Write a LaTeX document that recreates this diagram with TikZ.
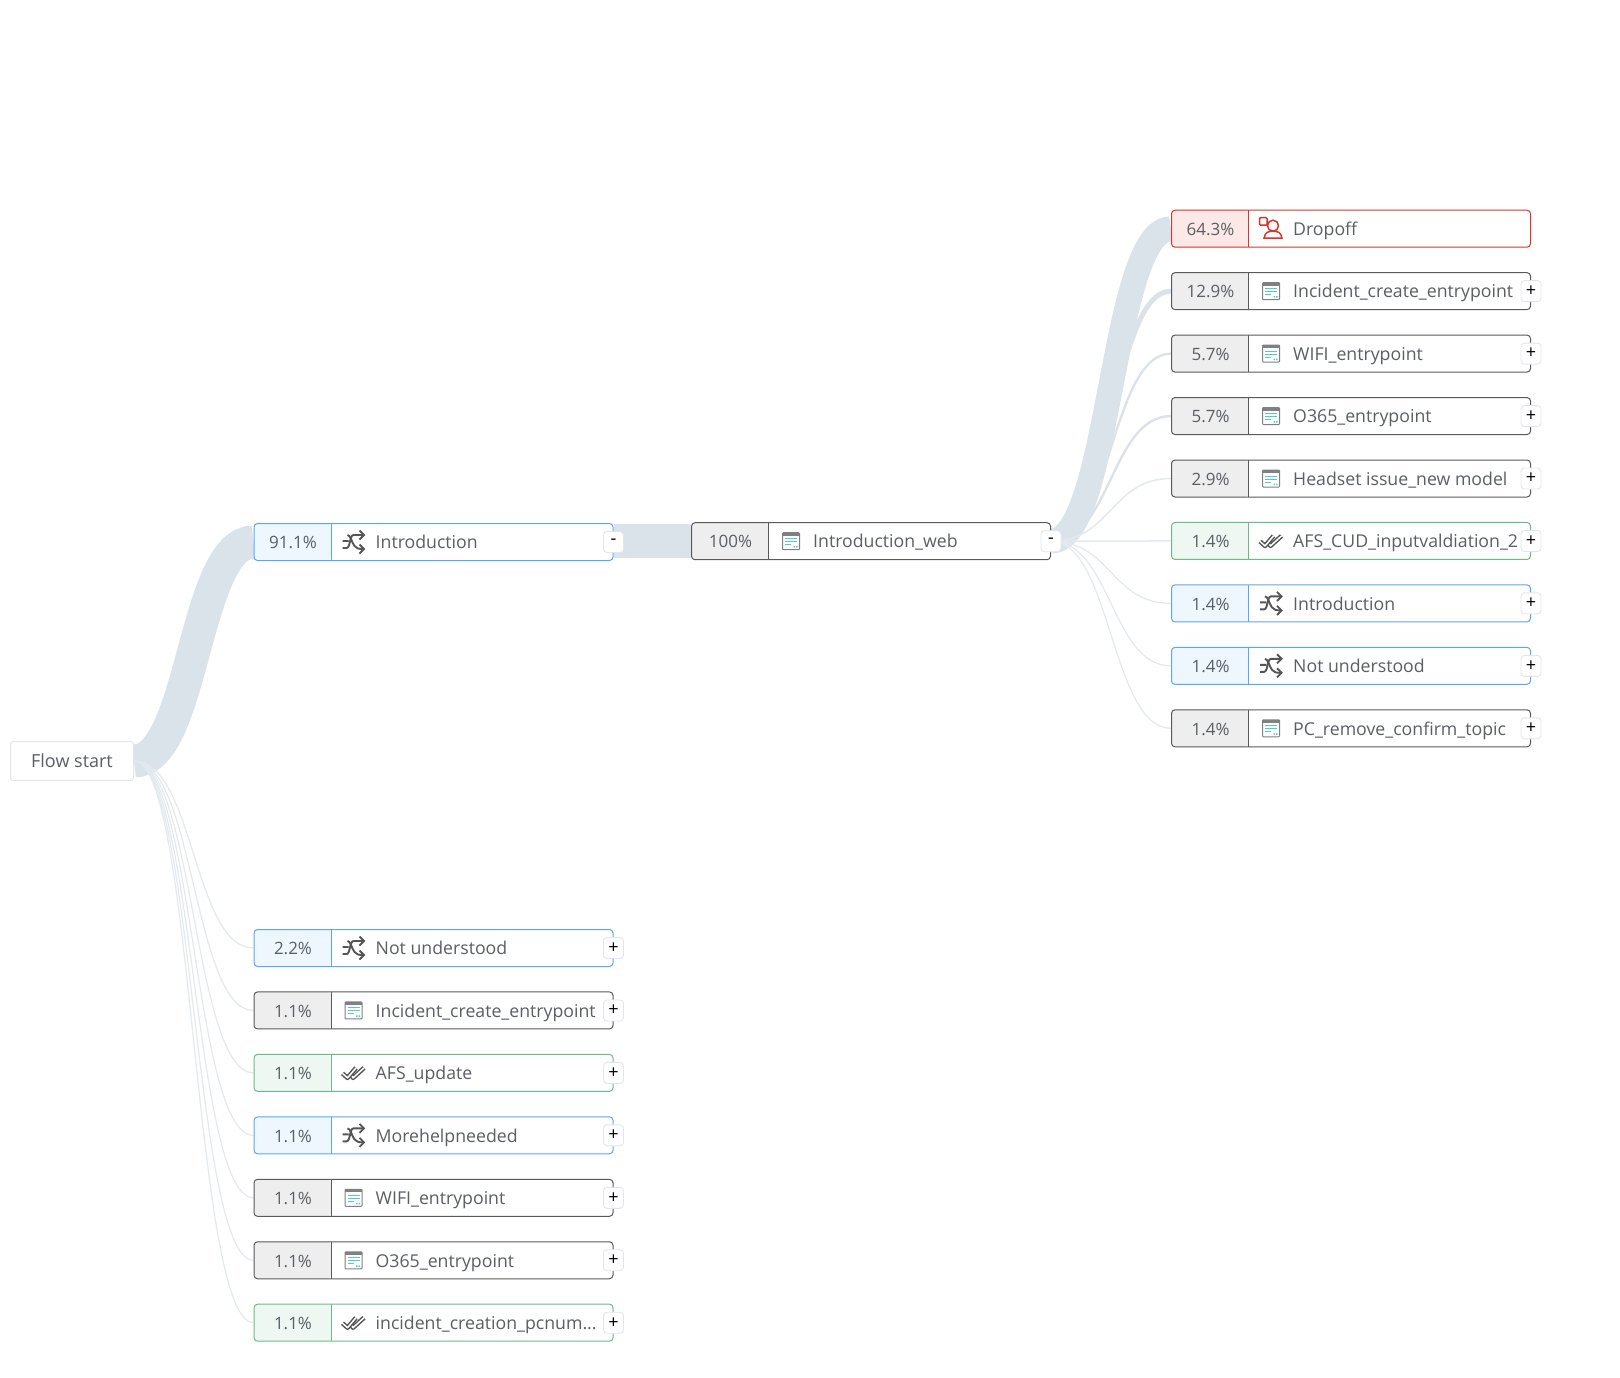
\documentclass[tikz,border=0pt]{standalone}
\usepackage{fontspec}
\setmainfont{Open Sans}
\usetikzlibrary{positioning, arrows, backgrounds}

\definecolor{routeline}{HTML}{5FA5F5}
\definecolor{routefill}{HTML}{EEF6FE}
\definecolor{formline}{HTML}{5A5A5A}
\definecolor{formfill}{HTML}{EEEEEE}
\definecolor{doneline}{HTML}{6DB98D}
\definecolor{donefill}{HTML}{EEF7F1}
\definecolor{dropline}{HTML}{D9352A}
\definecolor{dropfill}{HTML}{FCE9E7}
\definecolor{ribbongrey}{HTML}{DBE3EA}
\definecolor{thingrey}{HTML}{E3E9EF}
\definecolor{btnline}{HTML}{E2E6EC}
\definecolor{textgrey}{HTML}{5A5F66}
\definecolor{icongrey}{HTML}{555555}
\definecolor{formteal}{HTML}{4FCFCB}

\tikzstyle{rowbox} = [rectangle, rounded corners=3.5pt, minimum width=359pt, minimum height=37pt, inner sep=0pt, fill=white, line width=1pt]
\tikzstyle{pctlabel} = [inner sep=0pt, text height=12.5pt, text depth=0pt, text=textgrey, font=\fontsize{17}{20}\selectfont]
\tikzstyle{namelabel} = [inner sep=0pt, anchor=west, text height=12.5pt, text depth=0pt, text=textgrey, font=\fontsize{17.7}{20}\selectfont]
\tikzstyle{btn} = [rectangle, rounded corners=3.5pt, minimum width=20pt, minimum height=21pt, inner sep=0pt, draw=btnline, fill=white, line width=0.9pt, font=\fontsize{18}{18}\selectfont]
\tikzstyle{startbox} = [rectangle, rounded corners=3pt, minimum width=123pt, minimum height=39pt, inner sep=0pt, draw=btnline, fill=white, line width=1pt, text=textgrey, font=\fontsize{18}{20}\selectfont]
\tikzstyle{ribbon} = [draw=ribbongrey, to path={.. controls +(60pt,0pt) and +(-60pt,0pt) .. (\tikztotarget)}]
\tikzstyle{thinribbon} = [ribbon, draw=thingrey, line width=1.2pt]

% icons
\tikzset{
  routeicon/.pic={
    \draw [icongrey, line width=1.9pt] (-11,1) -- (-5,1) (-11,-6) -- (-7,-6) .. controls (-3,-6) and (-4,7) .. (0,7) -- (10,7);
    \draw [icongrey, line width=1.9pt] (-6,7) .. controls (-3,7) and (-2,0) .. (1,-4) .. controls (3,-6.5) and (5,-7) .. (10,-7);
    \draw [icongrey, line width=1.9pt] (6,11.5) -- (10.5,7) -- (6,2.5) (6,-2.5) -- (10.5,-7) -- (6,-11.5);
  },
  formicon/.pic={
    \draw [draw=gray, fill=white, rounded corners=0.8pt, line width=1pt] (-8.5,-8.5) rectangle (8.5,8.5);
    \fill [gray] (-8.5,8.5) rectangle (8.5,5.5);
    \draw [formteal, line width=1pt] (-6,2.5) -- (6,2.5) (-6,-0.5) -- (6,-0.5) (-6,-3.5) -- (0,-3.5);
    \fill [formteal] (2.5,-6.5) rectangle (4,-5) (5,-6.5) rectangle (6.5,-5);
  },
  doneicon/.pic={
    \draw [icongrey, line width=1.5pt, double=white, double distance=1.5pt, line join=round] (-3,-1) -- (-0.5,-5) -- (10.5,5);
    \draw [icongrey, line width=1.5pt, double=white, double distance=1.5pt, line join=round] (-11,-0.5) -- (-6,-5) -- (2.5,5);
  },
  dropicon/.pic={
    \draw [dropline, line width=1.5pt, rounded corners=1pt] (-11.5,3.5) rectangle (-4,11);
    \draw [dropline, line width=1.5pt] (2,3) circle (5.5);
    \draw [dropline, line width=1.5pt] (-7,-9.5) .. controls (-6,-3) and (-2,-2.5) .. (2,-2.5) .. controls (6,-2.5) and (10,-3) .. (11,-9.5) -- cycle;
  }
}

% name, line colour, placement, percent, icon, text
\newcommand{\flowrow}[6]{
  \node (#1) [rowbox, draw=#2line, #3, path picture={
    \fill [#2fill] (path picture bounding box.south west) rectangle ++(77pt,37pt);
    \draw [#2line, line width=1pt] ([xshift=77pt]path picture bounding box.south west) -- ++(0pt,37pt);}] {};
  \node (#1pct) [pctlabel] at ([xshift=39.5pt,yshift=-0.5pt]#1.west) {#4};
  \pic at ([xshift=100pt]#1.west) {#5icon};
  \node (#1name) [namelabel] at ([xshift=122pt,yshift=-0.5pt]#1.west) {#6};
}

\begin{document}
\begin{tikzpicture}[x=1pt, y=1pt, node distance=62.45pt]
\useasboundingbox (0,0) rectangle (1620,-1378);

%% NODES

\node (start) [startbox] at (72,-761) {Flow start};

\flowrow{intro}{route}{at={(433.5,-542)}}{91.1\%}{route}{Introduction}
\flowrow{web}{form}{at={(871,-541.2)}}{100\%}{form}{Introduction\_web}

\flowrow{dropoff}{drop}{at={(1351,-228.7)}}{64.3\%}{drop}{Dropoff}
\flowrow{rincident}{form}{below of=dropoff}{12.9\%}{form}{Incident\_create\_entrypoint}
\flowrow{rwifi}{form}{below of=rincident}{5.7\%}{form}{WIFI\_entrypoint}
\flowrow{roffice}{form}{below of=rwifi}{5.7\%}{form}{O365\_entrypoint}
\flowrow{rheadset}{form}{below of=roffice}{2.9\%}{form}{Headset issue\_new model}
\flowrow{rafs}{done}{below of=rheadset}{1.4\%}{done}{AFS\_CUD\_inputvaldiation\_2}
\flowrow{rintro}{route}{below of=rafs}{1.4\%}{route}{Introduction}
\flowrow{rnot}{route}{below of=rintro}{1.4\%}{route}{Not understood}
\flowrow{rpc}{form}{below of=rnot}{1.4\%}{form}{PC\_remove\_confirm\_topic}

\flowrow{lnot}{route}{at={(433.5,-948)}}{2.2\%}{route}{Not understood}
\flowrow{lincident}{form}{below of=lnot}{1.1\%}{form}{Incident\_create\_entrypoint}
\flowrow{lafs}{done}{below of=lincident}{1.1\%}{done}{AFS\_update}
\flowrow{lmore}{route}{below of=lafs}{1.1\%}{route}{Morehelpneeded}
\flowrow{lwifi}{form}{below of=lmore}{1.1\%}{form}{WIFI\_entrypoint}
\flowrow{loffice}{form}{below of=lwifi}{1.1\%}{form}{O365\_entrypoint}
\flowrow{lpc}{done}{below of=loffice}{1.1\%}{done}{incident\_creation\_pcnum...}

%% BUTTONS

\node (b1) [btn] at (intro.east) {-};
\node (b2) [btn] at (web.east) {-};
\node (b3) [btn] at (rincident.east) {+};
\node (b4) [btn] at (rwifi.east) {+};
\node (b5) [btn] at (roffice.east) {+};
\node (b6) [btn] at (rheadset.east) {+};
\node (b7) [btn] at (rafs.east) {+};
\node (b8) [btn] at (rintro.east) {+};
\node (b9) [btn] at (rnot.east) {+};
\node (b10) [btn] at (rpc.east) {+};
\node (b11) [btn] at (lnot.east) {+};
\node (b12) [btn] at (lincident.east) {+};
\node (b13) [btn] at (lafs.east) {+};
\node (b14) [btn] at (lmore.east) {+};
\node (b15) [btn] at (lwifi.east) {+};
\node (b16) [btn] at (loffice.east) {+};
\node (b17) [btn] at (lpc.east) {+};

%% RIBBONS

\begin{scope}[on background layer]
\draw [ribbon, line width=33pt] (start.east) to (intro.west);
\draw [thinribbon] (start.east) to (lnot.west);
\draw [thinribbon] (start.east) to (lincident.west);
\draw [thinribbon] (start.east) to (lafs.west);
\draw [thinribbon] (start.east) to (lmore.west);
\draw [thinribbon] (start.east) to (lwifi.west);
\draw [thinribbon] (start.east) to (loffice.west);
\draw [thinribbon] (start.east) to (lpc.west);
\draw [draw=ribbongrey, line width=34pt] (intro.east |- web.west) -- (web.west);
\draw [ribbon, line width=25pt] (web.east) to (dropoff.west);
\draw [ribbon, line width=5pt] (web.east) to (rincident.west);
\draw [ribbon, line width=2.4pt] (web.east) to (rwifi.west);
\draw [ribbon, line width=2.4pt] (web.east) to (roffice.west);
\draw [thinribbon, line width=1.5pt] (web.east) to (rheadset.west);
\draw [thinribbon, line width=1.5pt] (web.east) to (rafs.west);
\draw [thinribbon] (web.east) to (rintro.west);
\draw [thinribbon] (web.east) to (rnot.west);
\draw [thinribbon] (web.east) to (rpc.west);
\end{scope}

\end{tikzpicture}
\end{document}
